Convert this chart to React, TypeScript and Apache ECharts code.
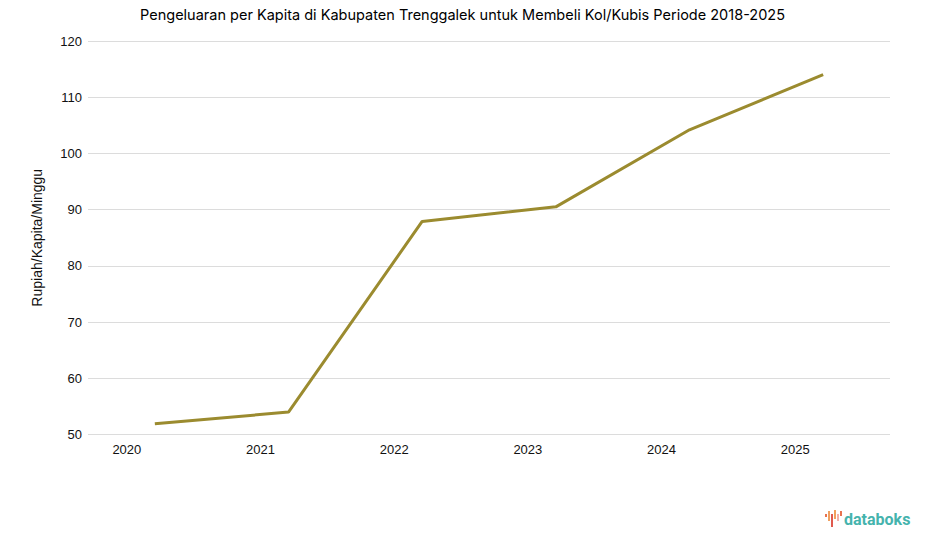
import React, { useEffect, useRef } from "react";
import * as echarts from "echarts";

const titleText = "Pengeluaran per Kapita di Kabupaten Trenggalek untuk Membeli Kol/Kubis Periode 2018-2025";
const years = ["2020", "2021", "2022", "2023", "2024", "2025"];
const values = [51.9, 54.0, 87.9, 90.5, 104.2, 114.0];
const yAxisName = "Rupiah/Kapita/Minggu";

export default function App() {
  const ref = useRef<HTMLDivElement>(null);
  useEffect(() => {
    if (!ref.current) return;
    const chart = echarts.init(ref.current, null, { renderer: "svg" });
    chart.setOption({
      animation: false,
      backgroundColor: "#ffffff",
      textStyle: { fontFamily: "Liberation Sans" },
      title: {
        text: titleText,
        left: "center",
        top: 2,
        textStyle: { fontFamily: "Inter", fontSize: 14.5, fontWeight: "normal", color: "#000" },
      },
      grid: { left: 88, right: 35, top: 41, bottom: 112.5 },
      xAxis: {
        type: "category",
        data: years,
        boundaryGap: true,
        axisLine: { show: false },
        axisTick: { show: false },
        axisLabel: {
          color: "#111",
          fontSize: 13,
          fontFamily: "Liberation Sans",
          margin: 8,
          padding: [0, 56, 0, 0],
        },
      },
      yAxis: {
        type: "value",
        min: 50,
        max: 120,
        interval: 10,
        name: yAxisName,
        nameLocation: "middle",
        nameGap: 44,
        nameTextStyle: { color: "#111", fontSize: 14, fontFamily: "Liberation Sans" },
        axisLine: { show: false },
        axisTick: { show: false },
        axisLabel: { color: "#111", fontSize: 13, fontFamily: "Liberation Sans", margin: 6 },
        splitLine: { lineStyle: { color: "#dcdcdc", width: 1 } },
      },
      series: [
        {
          type: "line",
          data: values,
          symbol: "none",
          lineStyle: { color: "#9b8b2f", width: 3 },
          itemStyle: { color: "#9b8b2f" },
        },
      ],
      graphic: [
        { type: "rect", shape: { x: 825, y: 514, width: 2, height: 3 }, style: { fill: "#e8734f" } },
        { type: "rect", shape: { x: 828, y: 511, width: 2, height: 10 }, style: { fill: "#f0a060" } },
        { type: "rect", shape: { x: 831, y: 514, width: 2, height: 13 }, style: { fill: "#e05a4e" } },
        { type: "rect", shape: { x: 834, y: 510, width: 2, height: 9 }, style: { fill: "#f2a25c" } },
        { type: "rect", shape: { x: 837, y: 514, width: 2, height: 7 }, style: { fill: "#f4b2a8" } },
        { type: "rect", shape: { x: 840, y: 511, width: 2, height: 5 }, style: { fill: "#e8734f" } },
        {
          type: "text",
          x: 844,
          y: 519,
          style: {
            text: "databoks",
            fill: "#45b3ad",
            fontSize: 16,
            fontWeight: "bold",
            fontFamily: "Roboto",
            verticalAlign: "middle",
          },
        },
      ],
    });
    return () => chart.dispose();
  }, []);
  return (
    <div
      ref={ref}
      style={{ position: "fixed", left: 0, top: 0, width: 925, height: 547 }}
    />
  );
}
